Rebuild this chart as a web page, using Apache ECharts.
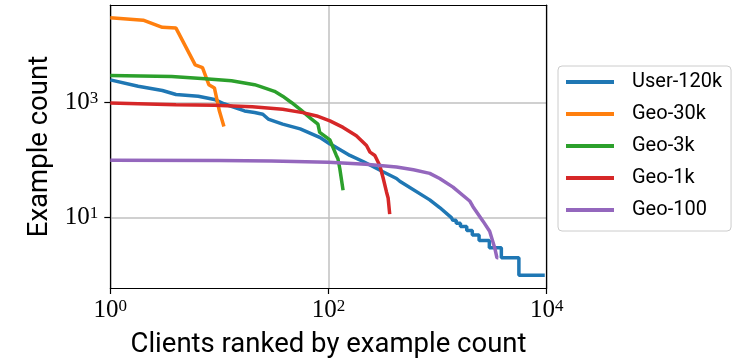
<!DOCTYPE html>
<html>
<head>
<meta charset="utf-8">
<script src="https://cdn.jsdelivr.net/npm/echarts@6/dist/echarts.min.js"></script>
<style>
  html, body { margin: 0; padding: 0; background: #fff; }
  #chart { width: 743px; height: 364px; }
</style>
</head>
<body>
<div id="chart"></div>
<script>
const seriesNames = ["User-120k", "Geo-30k", "Geo-3k", "Geo-1k", "Geo-100"];
const colors = ["#1f77b4", "#ff7f0e", "#2ca02c", "#d62728", "#9467bd"];

// rank of client (x) and its example count (y)
const user120kRank = [1, 1.8, 3, 4, 6.4, 9, 11, 17, 21, 25, 28, 38, 55, 83, 103, 110, 157, 210, 316, 420, 450, 847, 1045,
  1337, 1380, 1380, 1480, 1480, 1620, 1620, 1850, 1850, 2080, 2080, 2400, 2400, 2980, 2980, 3840, 3840, 5560, 5560, 9600];
const user120kCount = [2500, 1930, 1630, 1390, 1300, 1140, 960, 720, 675, 630, 520, 425, 350, 250, 192, 180, 121, 94, 63, 48, 43, 20.4, 15,
  10, 10, 9, 9, 8, 8, 7, 7, 6, 6, 5, 5, 4, 4, 3, 3, 2, 2, 1, 1];

const geo30kRank = [1, 2, 3, 4, 6, 7, 8, 9, 10, 11];
const geo30kCount = [30000, 27300, 20500, 19900, 4550, 4090, 2060, 1810, 717, 387];

const geo3kRank = [1, 3.65, 7.4, 12.9, 21, 23.5, 32, 38, 46, 55, 70, 80, 83, 103, 118, 122, 127, 131, 136];
const geo3kCount = [2980, 2860, 2620, 2420, 2060, 1930, 1580, 1300, 1000, 767, 517, 424, 305, 225, 121, 106, 71, 48, 30];

const geo1kRank = [1, 4, 9, 20, 38, 58, 78, 103, 136, 180, 223, 240, 266, 295, 316, 340, 352, 364];
const geo1kCount = [990, 920, 900, 850, 767, 673, 589, 483, 372, 267, 180, 138, 121, 81, 50, 28, 22, 11.5];

const geo100Rank = [1, 10, 30, 100, 220, 420, 600, 847, 1045, 1384, 1968, 2110, 2606, 3000, 3336, 3500, 3600];
const geo100Count = [100, 99, 97, 92, 85, 76, 68, 59, 48, 34, 19.5, 15.5, 8.7, 5.8, 3.0, 2, 2];

const xTicks = [1, 100, 10000];
const yTicks = [10, 1000];

const ranks = [user120kRank, geo30kRank, geo3kRank, geo1kRank, geo100Rank];
const counts = [user120kCount, geo30kCount, geo3kCount, geo1kCount, geo100Count];

function pairs(xs, ys) {
  return xs.map((x, i) => [x, ys[i]]);
}

function powerLabel(value) {
  return "{b|10}{s|" + Math.round(Math.log10(value)) + "}";
}

const labelRich = {
  b: { fontFamily: "Liberation Serif", fontSize: 25, lineHeight: 25, color: "#000" },
  s: { fontFamily: "Liberation Serif", fontSize: 17, lineHeight: 17, verticalAlign: "top", color: "#000" }
};

const titleFont = { fontFamily: "Roboto", fontSize: 27.5, color: "#000" };
const spine = { show: true, lineStyle: { color: "#000", width: 1.2 } };
const tickStyle = { color: "#000", width: 1.2 };
const gridLine = { show: true, lineStyle: { color: "#c0c0c0", width: 1.5 } };

const xRange = { type: "log", logBase: 10, min: 1, max: 10000 };
const yRange = { type: "log", logBase: 10, min: 0.597, max: 50200 };

// top and right spines only
const bareAxis = {
  axisLine: spine,
  axisTick: { show: false },
  axisLabel: { show: false },
  splitLine: { show: false }
};

const chart = echarts.init(document.getElementById("chart"), null, { renderer: "canvas" });
chart.setOption({
  animation: false,
  backgroundColor: "#fff",
  grid: { left: 110.3, right: 196.3, top: 5, bottom: 73.3 },
  legend: {
    data: seriesNames,
    orient: "vertical",
    left: 558,
    top: 66,
    icon: "rect",
    itemWidth: 48,
    itemHeight: 4,
    itemGap: 12,
    padding: [6, 9, 11, 8],
    backgroundColor: "rgba(255,255,255,0.8)",
    borderColor: "#cccccc",
    borderWidth: 1,
    borderRadius: 4,
    textStyle: { fontFamily: "Roboto", fontSize: 20, lineHeight: 20, color: "#000", padding: [0, 0, 0, 13] }
  },
  xAxis: [{
    ...xRange,
    name: "Clients ranked by example count",
    nameLocation: "middle",
    nameGap: 43,
    nameTextStyle: titleFont,
    axisLine: spine,
    axisTick: { show: true, inside: false, length: 6, customValues: xTicks, lineStyle: tickStyle },
    axisLabel: { margin: 10, customValues: xTicks, formatter: powerLabel, rich: labelRich },
    splitLine: gridLine
  }, {
    ...xRange,
    ...bareAxis,
    position: "top"
  }],
  yAxis: [{
    ...yRange,
    name: "Example count",
    nameLocation: "middle",
    nameGap: 47,
    nameTextStyle: titleFont,
    axisLine: spine,
    axisTick: { show: true, inside: false, length: 6, customValues: yTicks, lineStyle: tickStyle },
    axisLabel: { margin: 12, customValues: yTicks, formatter: powerLabel, rich: labelRich },
    splitLine: gridLine
  }, {
    ...yRange,
    ...bareAxis,
    position: "right"
  }],
  series: seriesNames.map((name, i) => ({
    name,
    type: "line",
    symbol: "none",
    showSymbol: false,
    color: colors[i],
    lineStyle: { color: colors[i], width: 3.5 },
    data: pairs(ranks[i], counts[i])
  }))
});
</script>
</body>
</html>
